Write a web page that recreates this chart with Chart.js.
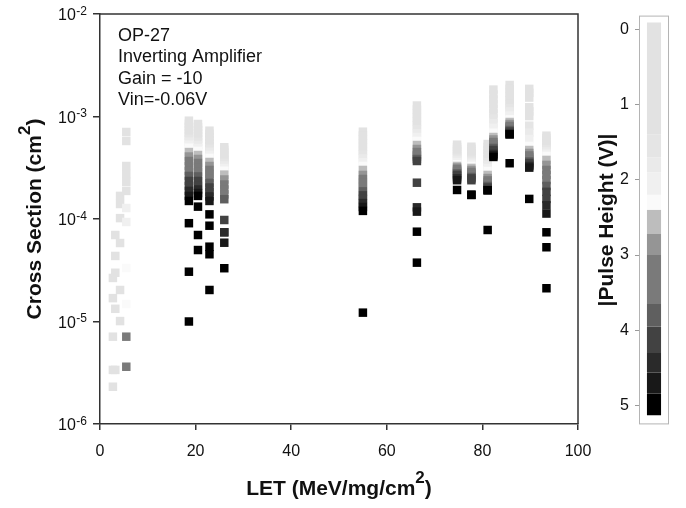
<!DOCTYPE html>
<html>
<head>
<meta charset="utf-8">
<title>OP-27 cross section vs LET</title>
<script src="https://cdn.jsdelivr.net/npm/chart.js@4.4.1/dist/chart.umd.min.js"></script>
<style>
  html, body { margin: 0; padding: 0; background: #fff; }
  #wrap { position: relative; width: 686px; height: 508px; }
  #main { position: absolute; left: 0; top: 0; }
  #scale { position: absolute; left: 590px; top: 0; }
</style>
</head>
<body>
<div id="wrap">
  <canvas id="main" width="686" height="508"></canvas>
  <canvas id="scale" width="96" height="440"></canvas>
</div>
<script>
/* ── DATA ───────────────────────────────────────────────────── */
/* LET of each measured column (MeV·cm²/mg) */
const LET = [2.7, 3.2, 4.2, 5.5, 18.6, 20.5, 22.9, 26.0, 55.0, 66.3, 74.7, 77.7, 81.1, 82.3, 85.7, 89.8, 93.4];

/* Pulse-height thresholds of the swept runs (V) */
const STEPS = [0, 0.25, 0.5, 0.75, 1, 1.25, 1.5, 1.75, 2, 2.25, 2.5, 2.75, 3, 3.25, 3.5, 3.75, 4, 4.25, 4.5, 4.75, 5, 5.5, 6, 6.5, 7];

/* Threshold of every point; the four low-LET runs have their own */
const PULSE = [
  [0, 0.25, 0.5, 0.75, 1],
  [0, 0.25, 0.5, 0.75, 1],
  [0, 0.25, 0.5, 0.75, 1, 1.25],
  [0, 0.25, 0.5, 0.75, 1, 1.25, 2, 2, 2.25, 2.25, 3.25, 3.5],
  STEPS, STEPS, STEPS, STEPS, STEPS, STEPS, STEPS,
  STEPS, STEPS, STEPS, STEPS, STEPS, STEPS,
];

/* Cross section (cm²) above each threshold, one list per LET */
const XSEC = [
  [2.66e-5, 1.69e-5, 7.11e-6, 3.37e-6, 2.31e-6],
  [6.98e-5, 4.36e-5, 2.99e-5, 1.33e-5, 3.37e-6],
  [1.68e-4, 1.4e-4, 1.02e-4, 5.83e-5, 2.03e-5, 1.01e-5],
  [7.06e-4, 5.77e-4, 3.29e-4, 2.75e-4, 2.3e-4, 1.88e-4, 1.28e-4, 9.35e-5, 3.33e-5, 1.48e-5, 7.11e-6, 3.62e-6],
  [9.1e-4, 8.5e-4, 7.95e-4, 7.44e-4, 6.95e-4, 6.5e-4, 6.08e-4, 5.68e-4, 5.31e-4, 4.96e-4, 4.5e-4, 4.07e-4, 3.68e-4, 3.29e-4, 2.94e-4, 2.63e-4, 2.35e-4, 2.1e-4, 1.88e-4, 1.68e-4, 1.5e-4, 9.1e-5, 3.06e-5, 1.0e-5],
  [8.45e-4, 7.9e-4, 7.38e-4, 6.9e-4, 6.45e-4, 6.03e-4, 5.64e-4, 5.27e-4, 4.93e-4, 4.61e-4, 4.21e-4, 3.85e-4, 3.52e-4, 3.18e-4, 2.88e-4, 2.6e-4, 2.35e-4, 2.12e-4, 1.94e-4, 1.79e-4, 1.68e-4, 1.32e-4, 6.98e-5, 4.98e-5],
  [7.27e-4, 6.79e-4, 6.34e-4, 5.92e-4, 5.54e-4, 5.17e-4, 4.83e-4, 4.52e-4, 4.21e-4, 3.94e-4, 3.6e-4, 3.29e-4, 3.01e-4, 2.75e-4, 2.49e-4, 2.25e-4, 2.03e-4, 1.84e-4, 1.66e-4, 1.5e-4, 1.11e-4, 8.6e-5, 5.37e-5, 4.53e-5, 2.03e-5],
  [5.01e-4, 4.72e-4, 4.46e-4, 4.2e-4, 3.96e-4, 3.74e-4, 3.53e-4, 3.33e-4, 3.14e-4, 2.96e-4, 2.71e-4, 2.43e-4, 2.17e-4, 1.94e-4, 1.74e-4, 1.56e-4, 9.78e-5, 7.42e-5, 7.42e-5, 5.87e-5, 3.31e-5],
  [7.11e-4, 6.53e-4, 5.99e-4, 5.5e-4, 5.05e-4, 4.63e-4, 4.25e-4, 3.9e-4, 3.58e-4, 3.29e-4, 3.01e-4, 2.69e-4, 2.46e-4, 2.25e-4, 2.05e-4, 1.86e-4, 1.7e-4, 1.57e-4, 1.43e-4, 1.31e-4, 1.2e-4, 1.22e-5],
  [1.28e-3, 1.17e-3, 1.07e-3, 9.78e-4, 8.96e-4, 8.21e-4, 7.52e-4, 6.87e-4, 6.3e-4, 5.77e-4, 5.27e-4, 4.82e-4, 4.5e-4, 4.21e-4, 4.03e-4, 3.85e-4, 3.68e-4, 2.26e-4, 1.3e-4, 1.18e-4, 7.52e-5, 3.75e-5],
  [5.31e-4, 5.05e-4, 4.81e-4, 4.59e-4, 4.37e-4, 4.16e-4, 3.95e-4, 3.77e-4, 3.59e-4, 3.42e-4, 3.29e-4, 3.18e-4, 3.08e-4, 2.97e-4, 2.88e-4, 2.78e-4, 2.69e-4, 2.6e-4, 2.49e-4, 2.39e-4, 1.92e-4],
  [5.07e-4, 4.84e-4, 4.61e-4, 4.39e-4, 4.18e-4, 3.99e-4, 3.8e-4, 3.62e-4, 3.45e-4, 3.29e-4, 3.15e-4, 3.01e-4, 2.88e-4, 2.78e-4, 2.69e-4, 2.57e-4, 2.49e-4, 2.39e-4, 1.72e-4, 1.72e-4, 1.72e-4],
  [5.39e-4, 5.04e-4, 4.71e-4, 4.41e-4, 4.12e-4, 3.85e-4, 3.6e-4, 3.37e-4, 3.15e-4, 2.94e-4, 2.69e-4, 2.51e-4, 2.38e-4, 2.27e-4, 2.17e-4, 2.1e-4, 2.03e-4, 1.96e-4, 1.91e-4, 1.91e-4, 1.91e-4, 7.81e-5],
  [1.83e-3, 1.64e-3, 1.47e-3, 1.33e-3, 1.19e-3, 1.07e-3, 9.58e-4, 8.6e-4, 7.74e-4, 6.95e-4, 6.31e-4, 5.97e-4, 5.64e-4, 5.39e-4, 5.16e-4, 4.93e-4, 4.71e-4, 4.51e-4, 4.31e-4, 4.17e-4, 4.03e-4],
  [2.03e-3, 1.86e-3, 1.71e-3, 1.57e-3, 1.44e-3, 1.32e-3, 1.21e-3, 1.12e-3, 1.02e-3, 9.39e-4, 8.84e-4, 8.45e-4, 8.08e-4, 7.81e-4, 7.64e-4, 7.38e-4, 7.14e-4, 6.98e-4, 6.83e-4, 6.7e-4, 6.7e-4, 3.5e-4],
  [1.86e-3, 1.7e-3, 1.53e-3, 1.23e-3, 1.12e-3, 1.01e-3, 8.13e-4, 6.98e-4, 6.03e-4, 5.16e-4, 4.71e-4, 4.41e-4, 4.17e-4, 3.98e-4, 3.81e-4, 3.64e-4, 3.52e-4, 3.4e-4, 3.29e-4, 3.17e-4, 1.57e-4],
  [6.5e-4, 6.17e-4, 5.87e-4, 5.58e-4, 5.31e-4, 5.04e-4, 4.8e-4, 4.56e-4, 4.34e-4, 4.12e-4, 3.77e-4, 3.37e-4, 3.01e-4, 2.69e-4, 2.4e-4, 2.1e-4, 1.84e-4, 1.57e-4, 1.36e-4, 1.13e-4, 7.42e-5, 5.3e-5, 2.11e-5],
];

/* Axis ticks */
const X_TICKS = [0, 20, 40, 60, 80, 100];
const Y_TICKS = [1e-6, 1e-5, 1e-4, 1e-3, 1e-2];
const PULSE_TICKS = [0, 1, 2, 3, 4, 5];

/* Grey colour scale for |pulse height|: band limits (V) and grey level per band */
const BAND_LIMITS = [-0.09, 1.4, 1.7, 1.9, 2.2, 2.4, 2.72, 3.0, 3.65, 3.95, 4.3, 4.56, 4.84, 5.13];
const BAND_GRAYS  = [226, 229, 234, 240, 250, 189, 149, 122, 95, 66, 42, 24, 0];

/* Run notes printed in the plot corner */
const NOTES = ['OP-27', 'Inverting Amplifier', 'Gain = -10', 'Vin=-0.06V'];

/* ── STYLE ──────────────────────────────────────────────────── */
const FONT = '"Liberation Sans", Arial, Helvetica, sans-serif';
const INK  = '#111111';
const AXIS = '#333333';

Chart.defaults.font.family = FONT;
Chart.defaults.color = INK;

/* Map a pulse height to its band grey (anything past the last band stays black) */
function grayFor(p) {
  let g = BAND_GRAYS[BAND_GRAYS.length - 1];
  for (let i = 0; i < BAND_GRAYS.length; i++) {
    if (p < BAND_LIMITS[i + 1]) { g = BAND_GRAYS[i]; break; }
  }
  return `rgb(${g},${g},${g})`;
}

/* Flatten the columns into one point list, top of each column first */
const points = [];
const colors = [];
LET.forEach((v, i) => {
  XSEC[i].forEach((s, j) => {
    points.push({ x: v, y: s });
    colors.push(grayFor(PULSE[i][j]));
  });
});

/* Text with a raised part: [text, size, raise] pieces, drawn left to right from x */
function drawRuns(ctx, runs, x, y, weight) {
  runs.forEach(([txt, size, raise]) => {
    ctx.font = `${weight} ${size}px ${FONT}`;
    ctx.fillText(txt, x, y - raise);
    x += ctx.measureText(txt).width;
  });
}
function runsWidth(ctx, runs, weight) {
  return runs.reduce((w, [txt, size]) => {
    ctx.font = `${weight} ${size}px ${FONT}`;
    return w + ctx.measureText(txt).width;
  }, 0);
}

/* ── MAIN PLOT DECORATION ───────────────────────────────────── */
/* Closes the frame, writes the power-of-ten labels, axis titles and notes */
const mainDecor = {
  id: 'mainDecor',
  afterDraw(chart) {
    const { ctx, chartArea: a, scales } = chart;
    ctx.save();

    // top and right sides of the frame
    ctx.strokeStyle = AXIS;
    ctx.lineWidth = 1.5;
    ctx.beginPath();
    ctx.moveTo(a.left, a.top);
    ctx.lineTo(a.right, a.top);
    ctx.lineTo(a.right, a.bottom);
    ctx.stroke();

    ctx.fillStyle = INK;
    ctx.textBaseline = 'alphabetic';

    // decade labels 10^n
    Y_TICKS.forEach(v => {
      const y = scales.y.getPixelForValue(v);
      const exp = String(Math.round(Math.log10(v)));
      ctx.font = `12px ${FONT}`;
      const wSup = ctx.measureText(exp).width;
      ctx.textAlign = 'left';
      ctx.fillText(exp, 87 - wSup, y + 0.5);
      ctx.font = `16px ${FONT}`;
      ctx.textAlign = 'right';
      ctx.fillText('10', 86.5 - wSup, y + 6);
    });

    // x title
    ctx.textAlign = 'left';
    const xRuns = [['LET (MeV/mg/cm', 21, 0], ['2', 17, 12], [')', 21, 0]];
    const xw = runsWidth(ctx, xRuns, 'bold');
    drawRuns(ctx, xRuns, (a.left + a.right) / 2 - xw / 2, 495, 'bold');

    // y title, rotated
    const yRuns = [['Cross Section (cm', 21, 0], ['2', 17, 11], [')', 21, 0]];
    const yw = runsWidth(ctx, yRuns, 'bold');
    ctx.save();
    ctx.translate(40.5, (a.top + a.bottom) / 2);
    ctx.rotate(-Math.PI / 2);
    drawRuns(ctx, yRuns, -yw / 2, 0, 'bold');
    ctx.restore();

    // run notes
    ctx.font = `18px ${FONT}`;
    NOTES.forEach((t, i) => ctx.fillText(t, 118, 41 + i * 21.3));

    ctx.restore();
  },
};

new Chart(document.getElementById('main'), {
  type: 'scatter',
  data: {
    datasets: [{
      data: points,
      pointStyle: 'rect',
      pointRadius: 6,
      pointHoverRadius: 6,
      pointBorderWidth: 0,
      borderWidth: 0,
      backgroundColor: colors,
      pointBackgroundColor: colors,
    }],
  },
  options: {
    responsive: false,
    animation: false,
    events: [],
    layout: { padding: { top: 14, right: 108, left: 0, bottom: 0 } },
    plugins: { legend: { display: false }, tooltip: { enabled: false } },
    scales: {
      x: {
        type: 'linear',
        min: 0,
        max: 100,
        afterBuildTicks: s => { s.ticks = X_TICKS.map(v => ({ value: v })); },
        afterFit: s => { s.height = 84; },
        grid: { drawOnChartArea: false, tickLength: 6, color: AXIS, lineWidth: 1.5 },
        border: { color: AXIS, width: 1.5 },
        ticks: { font: { size: 16 }, color: INK, padding: 12, maxRotation: 0 },
      },
      y: {
        type: 'logarithmic',
        min: 1e-6,
        max: 1e-2,
        afterBuildTicks: s => { s.ticks = Y_TICKS.map(v => ({ value: v })); },
        afterFit: s => { s.width = 100; },
        grid: { drawOnChartArea: false, tickLength: 7, color: AXIS, lineWidth: 1.5 },
        border: { color: AXIS, width: 1.5 },
        ticks: { display: false },
      },
    },
  },
  plugins: [mainDecor],
});

/* ── COLOUR SCALE ───────────────────────────────────────────── */
/* Boxed grey strip with its own pulse-height axis */
const scaleDecor = {
  id: 'scaleDecor',
  afterDraw(chart) {
    const { ctx, chartArea: a } = chart;
    ctx.save();
    ctx.strokeStyle = '#b4b4b4';
    ctx.lineWidth = 1;
    ctx.strokeRect(a.left + 0.5, a.top + 0.5, a.right - a.left - 1, a.bottom - a.top - 1);

    ctx.fillStyle = INK;
    ctx.font = `bold 21px ${FONT}`;
    ctx.textAlign = 'center';
    ctx.textBaseline = 'alphabetic';
    ctx.translate(23, (a.top + a.bottom) / 2);
    ctx.rotate(-Math.PI / 2);
    ctx.fillText('|Pulse Height (V)|', 0, 0);
    ctx.restore();
  },
};

new Chart(document.getElementById('scale'), {
  type: 'bar',
  data: {
    labels: [''],
    datasets: BAND_GRAYS.map((g, i) => ({
      data: [[BAND_LIMITS[i], BAND_LIMITS[i + 1]]],
      backgroundColor: `rgb(${g},${g},${g})`,
      borderWidth: 0,
      barPercentage: 0.47,
      categoryPercentage: 1,
      grouped: false,
    })),
  },
  options: {
    responsive: false,
    animation: false,
    events: [],
    layout: { padding: { top: 12, bottom: 9, left: 0, right: 17 } },
    plugins: { legend: { display: false }, tooltip: { enabled: false } },
    scales: {
      x: { display: false },
      y: {
        min: -0.18,
        max: 5.25,
        reverse: true,
        afterBuildTicks: s => { s.ticks = PULSE_TICKS.map(v => ({ value: v })); },
        afterFit: s => { s.width = 49; },
        grid: { drawOnChartArea: false, tickLength: 4, color: '#9a9a9a' },
        border: { display: false },
        ticks: { font: { size: 16 }, color: INK, padding: 6 },
      },
    },
  },
  plugins: [scaleDecor],
});
</script>
</body>
</html>
